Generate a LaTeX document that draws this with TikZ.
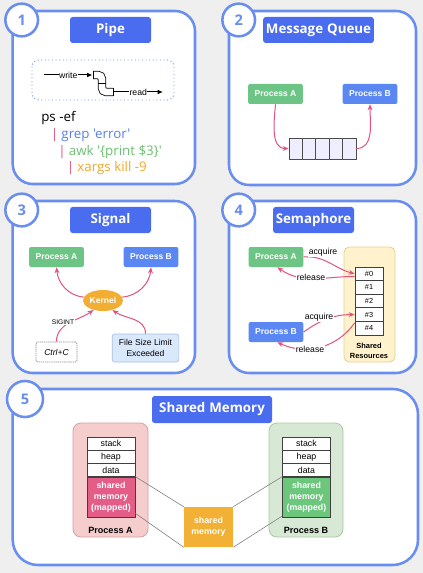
\documentclass[tikz,border=0pt]{standalone}
\usepackage{fontspec}
\setmainfont{Liberation Sans}
\newfontfamily\comic[Ligatures=TeXOff]{Open Sans}
\usetikzlibrary{arrows.meta,shapes.geometric}
\definecolor{bg}{HTML}{EFEFEF}
\definecolor{pblue}{HTML}{6A8DF0}
\definecolor{tblue}{HTML}{4A6CEF}
\definecolor{pgreen}{HTML}{6DC585}
\definecolor{procblue}{HTML}{5B87F2}
\definecolor{apink}{HTML}{E3527F}
\definecolor{korange}{HTML}{F2AD33}
\definecolor{cblue}{HTML}{5A7FEE}
\definecolor{cgreen}{HTML}{6CC072}
\definecolor{corange}{HTML}{F0A828}
\definecolor{qfill}{HTML}{EEEEFF}
\definecolor{resfill}{HTML}{FFF2CC}
\definecolor{resdraw}{HTML}{E6D08E}
\definecolor{filefill}{HTML}{DAE8FC}
\definecolor{filedraw}{HTML}{A9BFE6}
\definecolor{afill}{HTML}{F5CDCD}
\definecolor{adraw}{HTML}{D8A0A0}
\definecolor{bfill}{HTML}{D7E9D5}
\definecolor{bdraw}{HTML}{A8CA9E}
\definecolor{mapa}{HTML}{E35D86}
\definecolor{mapb}{HTML}{6CC77D}
\definecolor{smem}{HTML}{F2B035}
\tikzset{
  panel/.style={draw=pblue, line width=1.9pt, fill=white, rounded corners=15pt},
  numc/.style={circle, draw=pblue, line width=1.9pt, fill=white, minimum size=24.5pt, inner sep=0pt,
    font=\comic\bfseries\fontsize{11}{13}\selectfont, text=pblue},
  titlebox/.style={fill=tblue, rounded corners=2pt, text=white, inner sep=0pt, minimum height=19.5pt,
    font=\comic\bfseries\fontsize{10}{12}\selectfont},
  proc/.style={rounded corners=1.5pt, text=white, inner sep=0pt, minimum width=41pt, minimum height=15pt,
    font=\bfseries\fontsize{6.4}{7.5}\selectfont},
  parr/.style={draw=apink, line width=0.75pt, -{Stealth[length=4.5pt,width=3.6pt]}},
  lbl/.style={fill=white, inner sep=0.4pt, font=\fontsize{6.5}{7.5}\selectfont},
  cell/.style={draw=black!75, line width=0.5pt, fill=white, inner sep=0pt, minimum width=21pt, minimum height=10.2pt,
    font=\fontsize{5.5}{6.5}\selectfont},
  mcell/.style={draw=black!75, line width=0.5pt, fill=white, inner sep=0pt, minimum width=36pt, minimum height=10pt,
    font=\fontsize{6.6}{7.5}\selectfont},
  codet/.style={anchor=west, inner sep=0pt, font=\comic\fontsize{10}{12}\selectfont},
  gline/.style={draw=black!50, line width=0.45pt}
}
\begin{document}
\begin{tikzpicture}[x=0.75pt,y=-0.75pt]
\fill[bg] (0,0) rectangle (423,573);
\useasboundingbox (0,0) rectangle (423,573);

% ---------- panels ----------
\draw[panel] (12.7,11) rectangle (195,184);
\draw[panel] (229,11) rectangle (416,185);
\draw[panel] (12.7,201) rectangle (195,373);
\draw[panel] (229,201) rectangle (416,373);
\draw[panel, rounded corners=19pt] (12.7,389) rectangle (418,565);
\node[numc] (n1) at (21.7,20) {1};
\node[numc] (n2) at (238.7,20) {2};
\node[numc] (n3) at (21.7,210) {3};
\node[numc] (n4) at (238.7,210) {4};
\node[numc, minimum size=27pt] (n5) at (25,399) {5};

% ---------- 1 Pipe ----------
\node[titlebox, minimum width=60.75pt] (t1) at (110.5,30) {Pipe};
\draw[pblue, dotted, line width=0.7pt, rounded corners=5pt] (32,60) rectangle (174,100);
\coordinate (w0) at (44,75);
\coordinate (w1) at (92.5,75);
\coordinate (pp0) at (93,75);
\coordinate (pp1) at (102,75);
\coordinate (pp2) at (102,92);
\coordinate (pp3) at (113,92);
\coordinate (r0) at (113.5,92);
\coordinate (r1) at (163,92);
\draw[line width=0.75pt, -{Latex[length=4pt,width=3.5pt]}] (w0) -- node[fill=white, inner sep=0.3pt, font=\fontsize{6.5}{7}\selectfont] (wl) {write} (w1);
\draw[line width=0.6pt, double=white, double distance=5pt, rounded corners=3pt] (pp0) -- (pp1) -- (pp2) -- (pp3);
\draw[line width=0.6pt] (93,71.2) -- (93,78.8) (113,88.2) -- (113,95.8) (98.2,83) -- (105.8,83);
\draw[line width=0.75pt, -{Latex[length=4pt,width=3.5pt]}] (r0) -- node[fill=white, inner sep=0.3pt, font=\fontsize{6.5}{7}\selectfont] (rl) {read} (r1);
\node[codet] (c1) at (41,118) {ps -ef};
\node[codet] (c2) at (50.5,135) {\textcolor{apink}{|}\hspace{2.5pt}\textcolor{cblue}{grep 'error'}};
\node[codet] (c3) at (58,152) {\textcolor{apink}{|}\hspace{2.5pt}\textcolor{cgreen}{awk '\{print \$3\}'}};
\node[codet] (c4) at (66.5,168) {\textcolor{apink}{|}\hspace{2.5pt}\textcolor{corange}{xargs kill -9}};

% ---------- 2 Message Queue ----------
\node[titlebox, minimum width=83pt] (t2) at (318.5,30) {Message\hspace{3pt}Queue};
\node[proc, fill=pgreen] (pa2) at (275.5,94) {Process A};
\node[proc, fill=procblue] (pb2) at (370,94) {Process B};
\foreach \i in {1,...,5} {
  \node[draw=black!70, line width=0.5pt, fill=qfill, minimum width=10.05pt, minimum height=15.75pt, inner sep=0pt]
    (q\i) at ({289+13.4*(\i-0.5)},148.5) {};
}
\draw[parr] (pa2.south) to[out=-95,in=180] (q1.west);
\draw[parr] (q5.east) to[out=0,in=-90] (pb2.south);

% ---------- 3 Signal ----------
\node[titlebox, minimum width=60.75pt] (t3) at (110.5,220) {Signal};
\node[proc, fill=pgreen] (pa3) at (56.5,257) {Process A};
\node[proc, fill=procblue] (pb3) at (151,257) {Process B};
\node[ellipse, fill=korange, minimum width=30pt, minimum height=15.75pt, inner sep=0pt, text=white,
  font=\bfseries\fontsize{6.4}{7.5}\selectfont] (ker) at (103,300.5) {Kernel};
\node[draw=black!45, dash pattern=on 1pt off 0.6pt, line width=0.5pt, rounded corners=1.5pt, fill=white,
  minimum width=30.75pt, minimum height=15pt, inner sep=0pt, font=\itshape\fontsize{6.4}{7.5}\selectfont] (ctrl) at (56.5,352) {Ctrl+C};
\node[draw=filedraw, line width=0.5pt, rounded corners=2pt, fill=filefill, minimum width=50pt, minimum height=21pt,
  inner sep=0pt, align=center, font=\fontsize{6.4}{8}\selectfont] (file) at (145.5,348) {File Size Limit\\Exceeded};
\draw[parr] (ker.170) to[out=175,in=-85] (pa3.south);
\draw[parr] (ker.10) to[out=5,in=-95] (pb3.south);
\draw[parr] (ctrl.north) to[out=90,in=-145] (ker.-135);
\node[inner sep=0.5pt, fill=white, font=\fontsize{5}{6}\selectfont] (sig) at (63,322) {SIGINT};
\draw[parr] (file.north) to[out=90,in=-35] (ker.-45);

% ---------- 4 Semaphore ----------
\node[titlebox, minimum width=60.75pt] (t4) at (313.5,220) {Semaphore};
\node[draw=resdraw, line width=0.6pt, fill=resfill, rounded corners=4pt, minimum width=38.25pt, minimum height=86.25pt, inner sep=0pt] (res) at (369.5,304.5) {};
\foreach \i in {0,...,4} {
  \node[cell] (s\i) at (369,{273.8+13.6*\i}) {\#\i};
}
\node[align=center, inner sep=0pt, font=\bfseries\fontsize{5.6}{7.6}\selectfont] (reslbl) at (369,350.5) {Shared\\Resources};
\node[proc, fill=pgreen] (pa4) at (276,257) {Process A};
\node[proc, fill=procblue] (pb4) at (276,332) {Process B};
\draw[parr] (pa4.east) to[out=5,in=165] (s0.west);
\node[lbl] (aq1) at (323,252) {acquire};
\draw[parr] ([yshift=-2pt]s0.west) to[out=180,in=-35] ([xshift=1pt]pa4.south);
\node[lbl] (rl1) at (311,277) {release};
\draw[parr] (pb4.east) to[out=35,in=180] (s3.west);
\node[lbl] (aq2) at (319,317) {acquire};
\draw[parr] ([yshift=4pt]s4.west) to[out=-125,in=-25] ([xshift=1pt]pb4.south);
\node[lbl] (rl2) at (310,349) {release};

% ---------- 5 Shared Memory ----------
\node[titlebox, minimum width=90pt, minimum height=20.25pt] (t5) at (212,409.5) {Shared\hspace{3pt}Memory};
\node[draw=adraw, line width=0.6pt, fill=afill, rounded corners=6pt, minimum width=56.25pt, minimum height=85.5pt, inner sep=0pt] (ca) at (110.5,480) {};
\node[draw=bdraw, line width=0.6pt, fill=bfill, rounded corners=6pt, minimum width=55.5pt, minimum height=85.5pt, inner sep=0pt] (cb) at (306,480) {};
\node[mcell] (ast) at (111,443.5) {stack};
\node[mcell] (ahp) at (111,456.8) {heap};
\node[mcell] (adt) at (111,470.1) {data};
\node[mcell, fill=mapa, text=white, minimum height=30pt, align=center, font=\bfseries\fontsize{6.6}{8.2}\selectfont] (ma) at (111,497) {shared\\memory\\(mapped)};
\node[font=\bfseries\fontsize{6.8}{8}\selectfont, inner sep=0pt] (la) at (110.5,530) {Process A};
\node[mcell] (bst) at (306.5,443.5) {stack};
\node[mcell] (bhp) at (306.5,456.8) {heap};
\node[mcell] (bdt) at (306.5,470.1) {data};
\node[mcell, fill=mapb, text=white, minimum height=30pt, align=center, font=\bfseries\fontsize{6.6}{8.2}\selectfont] (mb) at (306.5,497) {shared\\memory\\(mapped)};
\node[font=\bfseries\fontsize{6.8}{8}\selectfont, inner sep=0pt] (lb) at (306,530) {Process B};
\node[fill=smem, minimum width=36.75pt, minimum height=30pt, inner sep=0pt, text=white, align=center,
  font=\bfseries\fontsize{6.6}{8.2}\selectfont] (sm) at (208.5,527) {shared\\memory};
\draw[gline] (ma.north east) -- (sm.north west);
\draw[gline] ([yshift=3pt]ma.south east) -- (sm.south west);
\draw[gline] (sm.north east) -- (mb.north west);
\draw[gline] (sm.south east) -- ([yshift=1pt]mb.south west);
\end{tikzpicture}
\end{document}
